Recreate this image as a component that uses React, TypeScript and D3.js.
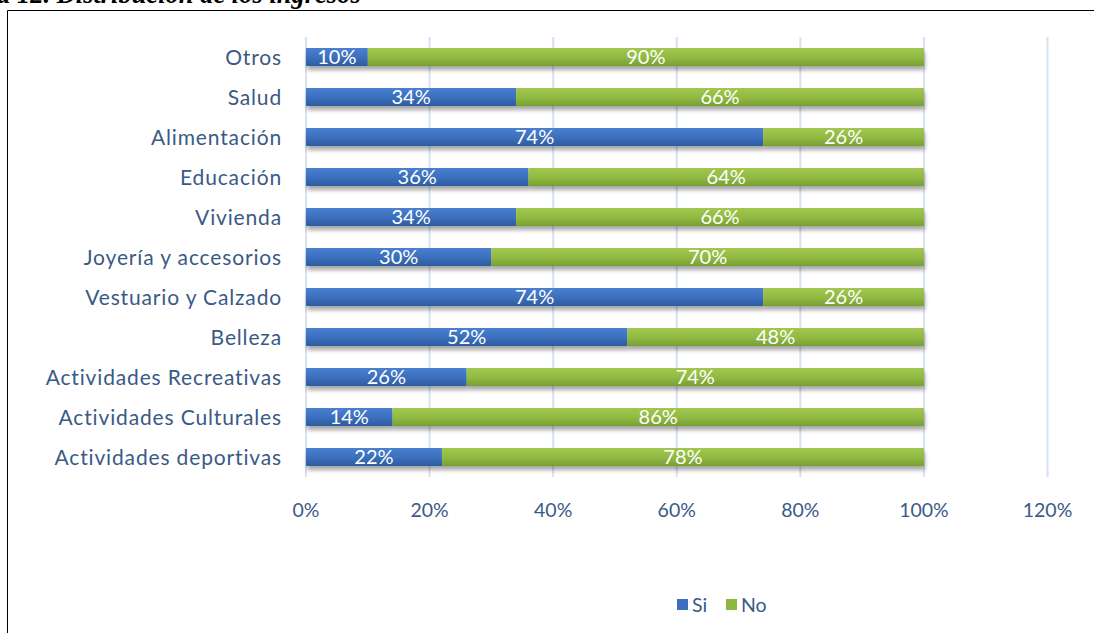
import * as d3 from 'd3';

const categories = [
  'Otros',
  'Salud',
  'Alimentación',
  'Educación',
  'Vivienda',
  'Joyería y accesorios',
  'Vestuario y Calzado',
  'Belleza',
  'Actividades Recreativas',
  'Actividades Culturales',
  'Actividades deportivas',
];
const siValues = [10, 34, 74, 36, 34, 30, 74, 52, 26, 14, 22];
const noValues = [90, 66, 26, 64, 66, 70, 26, 48, 74, 86, 78];
const tickValues = [0, 20, 40, 60, 80, 100, 120];
const seriesNames = ['Si', 'No'];

const W = 1094;
const H = 633;
const FONT = 'Lato, "Open Sans", sans-serif';
const TEXT = '#3A5A86';

export default function App() {
  const x = d3.scaleLinear().domain([0, 120]).range([306, 1047.5]);
  const y = d3.scaleBand().domain(categories).range([37, 477]).paddingInner(0.55).paddingOuter(0.275);
  const bh = y.bandwidth();

  const rows = categories.map((c, i) => ({ c, si: siValues[i], no: noValues[i] }));

  return (
    <div style={{ position: 'absolute', left: 0, top: 0 }}>
      <svg width={W} height={H} style={{ display: 'block' }}>
        <defs>
          <linearGradient id="gBlue" x1="0" y1="0" x2="0" y2="1">
            <stop offset="0" stopColor="#4A80CF" />
            <stop offset="0.5" stopColor="#3C70BE" />
            <stop offset="1" stopColor="#2C5C9F" />
          </linearGradient>
          <linearGradient id="gGreen" x1="0" y1="0" x2="0" y2="1">
            <stop offset="0" stopColor="#A2C64F" />
            <stop offset="0.5" stopColor="#92BB43" />
            <stop offset="1" stopColor="#789F31" />
          </linearGradient>
          <filter id="shadow" x="-5%" y="-50%" width="110%" height="250%">
            <feGaussianBlur in="SourceAlpha" stdDeviation="2.2" />
            <feOffset dx="1" dy="4" result="b" />
            <feComponentTransfer><feFuncA type="linear" slope="0.35" /></feComponentTransfer>
            <feMerge><feMergeNode /><feMergeNode in="SourceGraphic" /></feMerge>
          </filter>
        </defs>
        <rect width={W} height={H} fill="#fff" />
        {/* caption, cut by the top edge as in the source page */}
        <text x={-3} y={3} fontFamily='"Liberation Serif", "DejaVu Serif", serif' fontWeight="bold" fontStyle="italic" fontSize={26.5} fill="#000">
          a 12. Distribución de los ingresos
        </text>
        {/* frame */}
        <path d={`M7.5,${H + 2}V10.5H${W + 2}`} fill="none" stroke="#000" strokeWidth={1} />

        {/* gridlines */}
        {tickValues.map(t => (
          <line key={t} x1={x(t)} x2={x(t)} y1={37} y2={477} stroke="#D5E2F2" strokeWidth={2} />
        ))}

        {/* bars */}
        {rows.map(r => {
          const y0 = y(r.c) as number;
          return (
            <g key={r.c} filter="url(#shadow)">
              <rect x={x(0)} y={y0} width={x(r.si) - x(0)} height={bh} fill="url(#gBlue)" />
              <rect x={x(r.si)} y={y0} width={x(r.si + r.no) - x(r.si)} height={bh} fill="url(#gGreen)" />
            </g>
          );
        })}
        {rows.map(r => {
          const cy = (y(r.c) as number) + bh / 2;
          return (
            <g key={r.c + 'l'} fontFamily={FONT} fontSize={20} fill="#fff" textAnchor="middle">
              <text x={(x(0) + x(r.si)) / 2} y={cy} dy="0.36em">{r.si}%</text>
              <text x={(x(r.si) + x(r.si + r.no)) / 2} y={cy} dy="0.36em">{r.no}%</text>
            </g>
          );
        })}

        {/* category labels */}
        {categories.map(c => (
          <text key={c} x={282} y={(y(c) as number) + bh / 2} dy="0.36em" textAnchor="end" fontFamily={FONT} fontSize={21} letterSpacing={0.85} fill={TEXT}>
            {c}
          </text>
        ))}

        {/* x tick labels */}
        {tickValues.map(t => (
          <text key={t} x={x(t)} y={510} dy="0.36em" textAnchor="middle" fontFamily={FONT} fontSize={19.5} fill={TEXT}>
            {t}%
          </text>
        ))}

        {/* legend */}
        <g fontFamily={FONT} fontSize={19.5} fill={TEXT}>
          <rect x={677} y={599} width={11} height={11} fill="#3C70BE" />
          <text x={692} y={605} dy="0.36em">{seriesNames[0]}</text>
          <rect x={726} y={599} width={11} height={11} fill="#8CB840" />
          <text x={741} y={605} dy="0.36em">{seriesNames[1]}</text>
        </g>
      </svg>
    </div>
  );
}
